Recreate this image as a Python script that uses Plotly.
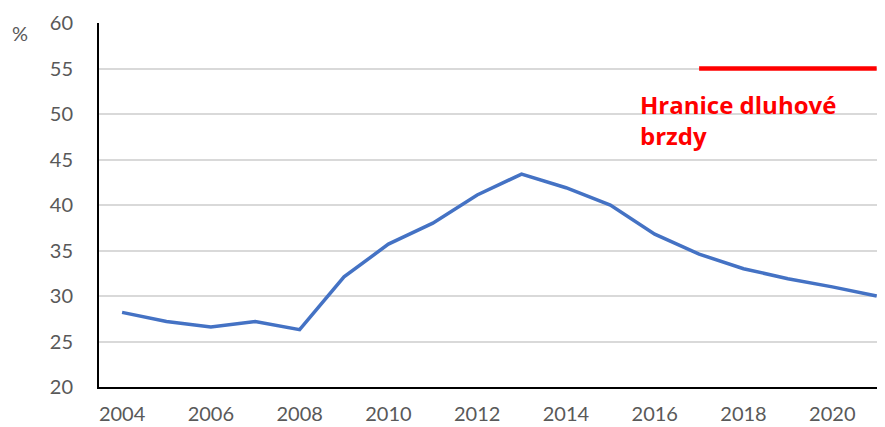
import plotly.graph_objects as go

years = list(range(2004, 2022))
debt = [28.2, 27.2, 26.6, 27.2, 26.3, 32.1, 35.7, 38.0, 41.1, 43.4, 41.9, 40.0, 36.8, 34.6, 33.0, 31.9, 31.0, 30.0]
brake_years = [2017, 2018, 2019, 2020, 2021]
brake_values = [55, 55, 55, 55, 55]
x_ticks = [2004, 2006, 2008, 2010, 2012, 2014, 2016, 2018, 2020]
y_ticks = [20, 25, 30, 35, 40, 45, 50, 55, 60]

# page body has an 8px default margin; figure size/margins compensate for it
W, H = 877, 419
L, R, T, B = 91, 3, 15, 40
PW, PH = W - L - R, H - T - B

fig = go.Figure()
fig.add_trace(go.Scatter(x=years, y=debt, mode="lines",
                         line=dict(color="#4472C4", width=3.5), showlegend=False))
fig.add_trace(go.Scatter(x=brake_years, y=brake_values, mode="lines",
                         line=dict(color="#FF0000", width=4.5), showlegend=False))

fig.add_annotation(text="<b>Hranice dluhové<br>brzdy</b>", xref="paper", yref="paper",
                   x=(638 - 8 - L) / PW, y=(H - B - (86 - 8)) / PH, xanchor="left", yanchor="top",
                   align="left", showarrow=False,
                   font=dict(family="Open Sans", size=24, color="#FF0000"))
fig.add_annotation(text="%", xref="paper", yref="paper", x=(20 - 8 - L) / PW,
                   y=(H - B - (33 - 8)) / PH,
                   xanchor="center", yanchor="middle", showarrow=False,
                   font=dict(family="Lato", size=20, color="#595959"))

fig.update_layout(
    width=W, height=H,
    margin=dict(l=L, r=R, t=T, b=B),
    plot_bgcolor="white", paper_bgcolor="white",
    font=dict(family="Lato", size=20, color="#595959"),
)
fig.update_xaxes(range=[2003.48, 2021.12], tickvals=x_ticks, showgrid=False,
                 showline=True, linecolor="black", linewidth=2, ticks="",
                 ticklabelstandoff=8, zeroline=False, automargin=False)
fig.update_yaxes(range=[20, 60], tickvals=y_ticks, showgrid=True, gridcolor="#D9D9D9",
                 gridwidth=1.5, showline=True, linecolor="black", linewidth=2, ticks="",
                 ticklabelstandoff=20, zeroline=False, automargin=False)

fig.write_html("out.html")
